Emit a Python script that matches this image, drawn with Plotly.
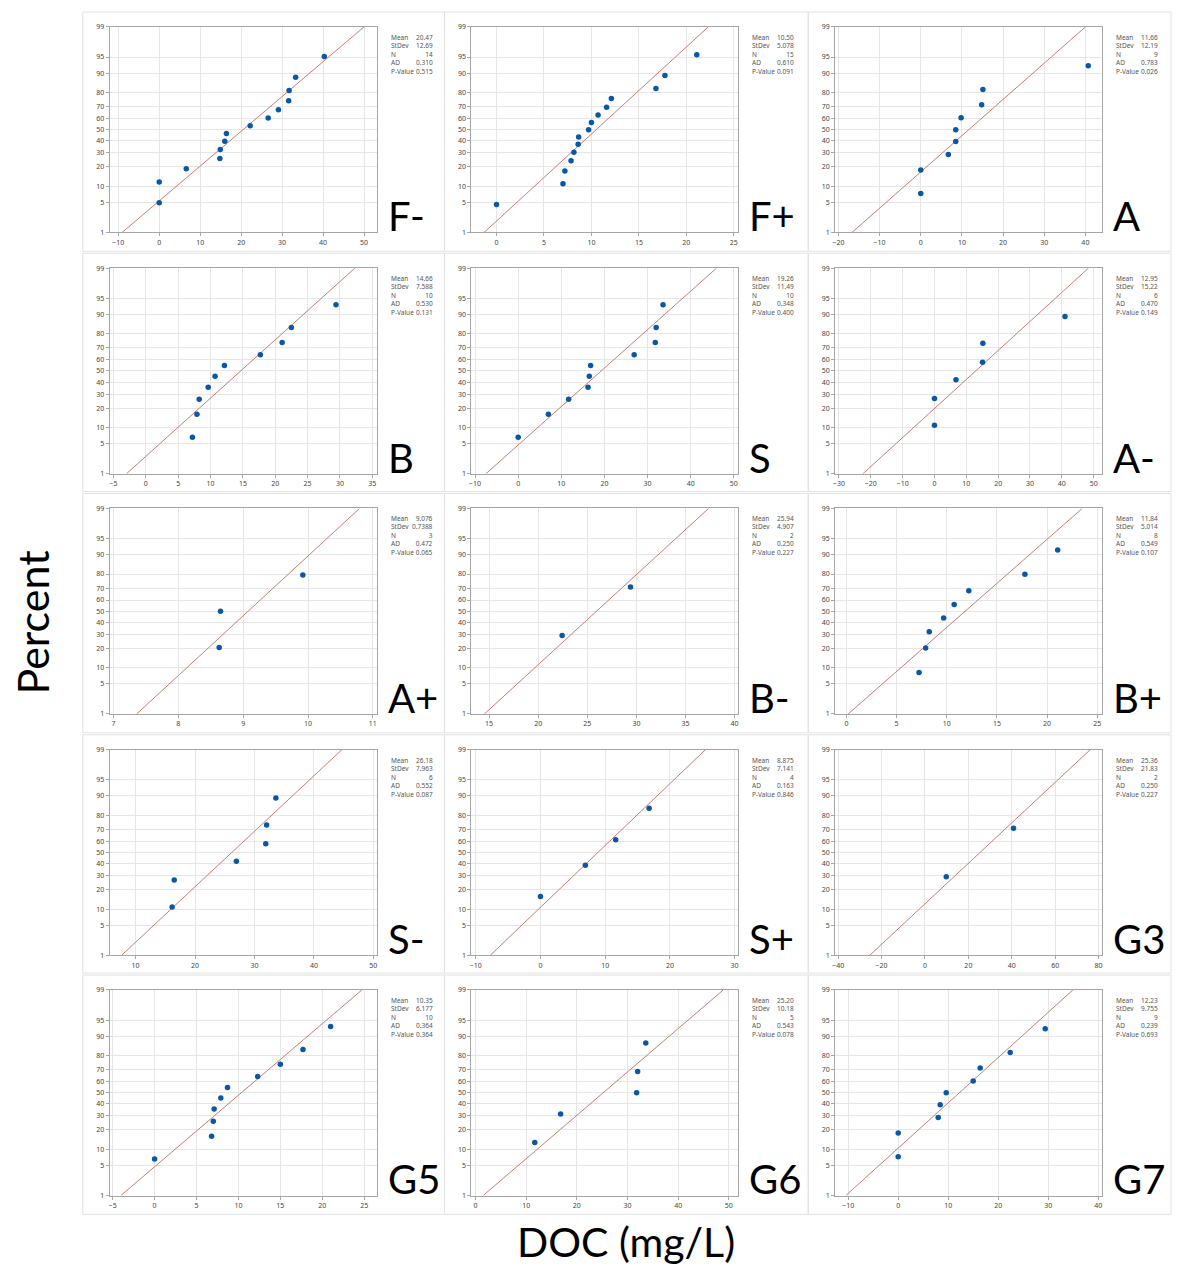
import plotly.graph_objects as go
from statistics import NormalDist

# page body margin compensation
PAGE_W, PAGE_H = 1182, 1281
OFF = 8
W, H = PAGE_W - 2 * OFF, PAGE_H - 2 * OFF
nd = NormalDist()

# ---------------- data ----------------
names = ["F-", "F+", "A", "B", "S", "A-", "A+", "B-", "B+", "S-", "S+", "G3", "G5", "G6", "G7"]

doc_Fm = [0.0, 0.0, 6.6, 14.8, 14.9, 16.0, 16.4, 22.2, 26.6, 29.1, 31.6, 31.7, 33.3, 40.3]
doc_Fp = [0.0, 7.0, 7.2, 7.85, 8.15, 8.6, 8.65, 9.7, 10.0, 10.7, 11.6, 12.1, 16.8, 17.75, 21.1]
doc_A = [0.0, 0.0, 6.7, 8.5, 8.5, 9.8, 14.8, 15.1, 40.7]
doc_B = [7.2, 7.9, 8.25, 9.64, 10.7, 12.15, 17.7, 21.07, 22.5, 29.4]
doc_S = [0.0, 7.0, 11.7, 16.2, 16.5, 16.8, 26.9, 31.8, 32.0, 33.6]
doc_Am = [0.0, 0.0, 6.75, 15.1, 15.2, 41.0]
doc_Ap = [8.63, 8.65, 9.92]
doc_Bm = [22.44, 29.4]
doc_Bp = [7.24, 7.9, 8.26, 9.69, 10.74, 12.2, 17.79, 21.06]
doc_Sm = [16.15, 16.5, 26.95, 31.9, 32.05, 33.6]
doc_Sp = [0.0, 6.94, 11.63, 16.79]
doc_G3 = [9.8, 40.8]
doc_G5 = [0.0, 6.8, 7.0, 7.1, 7.9, 8.7, 12.3, 15.0, 17.7, 21.0]
doc_G6 = [11.7, 16.8, 31.8, 32.0, 33.6]
doc_G7 = [0.0, 0.0, 8.0, 8.4, 9.6, 15.0, 16.4, 22.4, 29.4]

pct_2 = [29.2, 70.8]
pct_3 = [20.6, 50.0, 79.4]
pct_4 = [15.9, 38.6, 61.4, 84.1]
pct_5 = [13.0, 31.5, 50.0, 68.5, 87.0]
pct_6 = [10.9, 26.6, 42.2, 57.8, 73.4, 89.1]
pct_8 = [8.3, 20.2, 32.1, 44.0, 56.0, 67.9, 79.8, 91.7]
pct_9 = [7.4, 18.1, 28.7, 39.4, 50.0, 60.6, 71.3, 81.9, 92.6]
pct_10 = [6.7, 16.3, 26.0, 35.6, 45.2, 54.8, 64.4, 74.0, 83.7, 93.3]
pct_14 = [4.9, 11.8, 18.8, 25.7, 32.6, 39.6, 46.5, 53.5, 60.4, 67.4, 74.3, 81.2, 88.2, 95.1]
pct_15 = [4.5, 11.0, 17.5, 24.0, 30.5, 37.0, 43.5, 50.0, 56.5, 63.0, 69.5, 76.0, 82.5, 89.0, 95.5]

docs = [doc_Fm, doc_Fp, doc_A, doc_B, doc_S, doc_Am, doc_Ap, doc_Bm, doc_Bp,
        doc_Sm, doc_Sp, doc_G3, doc_G5, doc_G6, doc_G7]
pcts = [pct_14, pct_15, pct_9, pct_10, pct_10, pct_6, pct_3, pct_2, pct_8,
        pct_6, pct_4, pct_2, pct_10, pct_5, pct_9]

mean_txt = ["20.47", "10.50", "11.66", "14.66", "19.26", "12.95", "9.076", "25.94", "11.84",
            "26.18", "8.875", "25.36", "10.35", "25.20", "12.23"]
stdev_txt = ["12.69", "5.078", "12.19", "7.588", "11.49", "15.22", "0.7388", "4.907", "5.014",
             "7.963", "7.141", "21.83", "6.177", "10.18", "9.755"]
n_txt = ["14", "15", "9", "10", "10", "6", "3", "2", "8", "6", "4", "2", "10", "5", "9"]
ad_txt = ["0.310", "0.610", "0.783", "0.530", "0.348", "0.470", "0.472", "0.250", "0.549",
          "0.552", "0.163", "0.250", "0.364", "0.543", "0.239"]
p_txt = ["0.515", "0.091", "0.026", "0.131", "0.400", "0.149", "0.065", "0.227", "0.107",
         "0.087", "0.846", "0.227", "0.364", "0.078", "0.693"]

x_ranges = [(-12.1, 53.1), (-2.65, 25.5), (-20.8, 44.1), (-5.6, 35.7), (-10.85, 51.1),
            (-31.2, 52.7), (6.94, 11.06), (13.2, 40.4), (-1.12, 25.5), (5.64, 50.57),
            (-10.66, 30.6), (-41.4, 81.7), (-5.36, 26.5), (-0.8, 51.9), (-12.6, 40.8)]
x_dticks = [10, 5, 10, 5, 10, 10, 1, 5, 5, 10, 10, 20, 5, 10, 10]

y_ticks = [1, 5, 10, 20, 30, 40, 50, 60, 70, 80, 90, 95, 99]

# ---------------- layout geometry (page pixels) ----------------
col_left = [80, 443, 808]
col_right = [443, 808, 1172]
row_top = [7, 250, 492, 735, 977]
row_bot = [248, 490, 733, 975, 1218]

def fx(px):
    return (px - OFF) / W

def fy(py):
    return 1 - (py - OFF) / H

zmax = nd.inv_cdf(0.99)
fig = go.Figure()
layout = dict(
    width=W, height=H, margin=dict(l=0, r=0, t=0, b=0),
    paper_bgcolor="white", plot_bgcolor="white", showlegend=False,
)
shapes = []
annotations = []
tick_font = dict(family="Noto Sans", size=7, color="#444")

for i, name in enumerate(names):
    r, c = divmod(i, 3)
    L, T = col_left[c], row_top[r]
    x0p, x1p = L + 27, L + 295
    y0p, y1p = T + 15, T + 222
    k = "" if i == 0 else str(i + 1)
    xa, ya = "x" + k, "y" + k

    ys = [nd.inv_cdf(p / 100) for p in pcts[i]]
    m, s = float(mean_txt[i]), float(stdev_txt[i])
    fig.add_trace(go.Scatter(
        x=[m - zmax * s, m + zmax * s], y=[-zmax, zmax], mode="lines",
        line=dict(color="#cc7a72", width=1), xaxis=xa, yaxis=ya, hoverinfo="skip"))
    fig.add_trace(go.Scatter(
        x=docs[i], y=ys, mode="markers",
        marker=dict(color="#0a56a8", size=5.5), xaxis=xa, yaxis=ya))

    layout["xaxis" + k] = dict(
        domain=[fx(x0p), fx(x1p)], anchor=ya, range=list(x_ranges[i]),
        dtick=x_dticks[i], tick0=0, showgrid=True, gridcolor="#e6e6e6", gridwidth=1,
        zeroline=False, showline=True, mirror=True, linecolor="#a6a6a6", linewidth=1,
        ticks="outside", ticklen=3, tickcolor="#a6a6a6", tickfont=tick_font)
    layout["yaxis" + k] = dict(
        domain=[fy(y1p), fy(y0p)], anchor=xa, range=[-zmax, zmax],
        tickvals=[nd.inv_cdf(p / 100) for p in y_ticks], ticktext=[str(p) for p in y_ticks],
        showgrid=True, gridcolor="#e6e6e6", gridwidth=1,
        zeroline=False, showline=True, mirror=True, linecolor="#a6a6a6", linewidth=1,
        ticks="outside", ticklen=3, tickcolor="#a6a6a6", tickfont=tick_font)

    # panel border
    shapes.append(dict(type="rect", xref="paper", yref="paper",
                       x0=fx(L), x1=fx(col_right[c]), y0=fy(row_bot[r]), y1=fy(T),
                       line=dict(color="#e2e2e2", width=1)))
    # stats
    annotations.append(dict(
        xref="paper", yref="paper", x=fx(L + 307), y=fy(y0p + 4), xanchor="left", yanchor="top",
        align="left", showarrow=False,
        text="Mean<br>StDev<br>N<br>AD<br>P-Value",
        font=dict(family="Noto Sans", size=6.5, color="#555")))
    annotations.append(dict(
        xref="paper", yref="paper", x=fx(L + 353), y=fy(y0p + 4), xanchor="right", yanchor="top",
        align="right", showarrow=False,
        text="<br>".join([mean_txt[i], stdev_txt[i], n_txt[i], ad_txt[i], p_txt[i]]),
        font=dict(family="Noto Sans", size=6.5, color="#555")))
    # panel label
    annotations.append(dict(
        xref="paper", yref="paper", x=fx(L + 304), y=fy(y1p + 10), xanchor="left", yanchor="bottom",
        showarrow=False, text=name,
        font=dict(family="Lato", size=40, color="black")))

annotations.append(dict(
    xref="paper", yref="paper", x=fx(30), y=fy(622), xanchor="center", yanchor="middle",
    showarrow=False, text="Percent", textangle=-90,
    font=dict(family="Lato", size=43, color="black")))
annotations.append(dict(
    xref="paper", yref="paper", x=fx(625), y=fy(1272), xanchor="center", yanchor="bottom",
    showarrow=False, text="DOC (mg/L)",
    font=dict(family="Lato", size=41, color="black")))

layout["shapes"] = shapes
layout["annotations"] = annotations
fig.update_layout(**layout)
fig.write_html("out.html")
